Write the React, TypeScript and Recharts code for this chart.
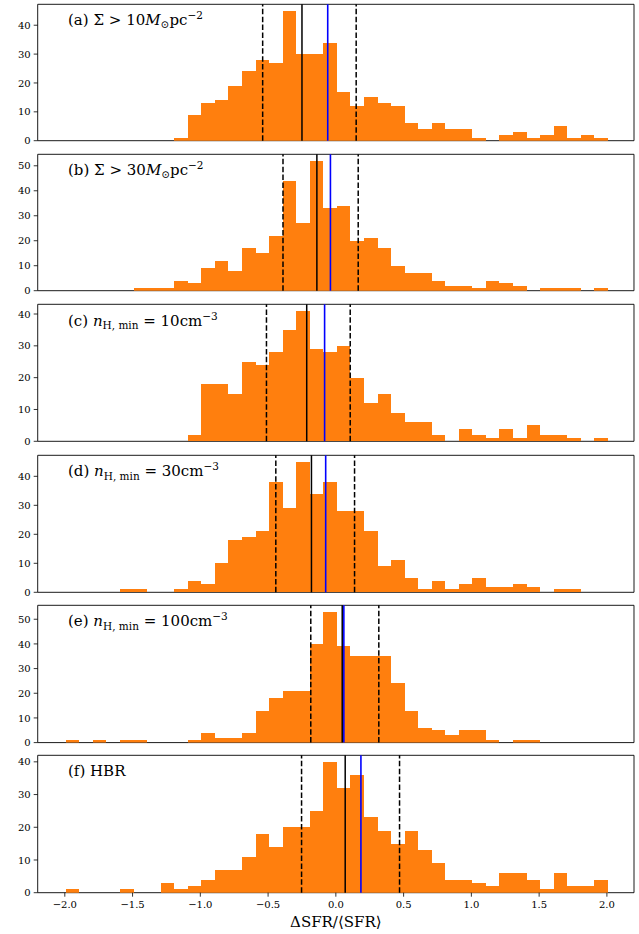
import React from 'react';
import { ComposedChart, Bar, XAxis, YAxis, ReferenceLine, ReferenceArea } from 'recharts';

// Histogram bins (left edge labels), 0.1 wide, covering -2.0 .. 2.0
const binLeft = [
  -2.0, -1.9, -1.8, -1.7, -1.6, -1.5, -1.4, -1.3, -1.2, -1.1,
  -1.0, -0.9, -0.8, -0.7, -0.6, -0.5, -0.4, -0.3, -0.2, -0.1,
  0.0, 0.1, 0.2, 0.3, 0.4, 0.5, 0.6, 0.7, 0.8, 0.9,
  1.0, 1.1, 1.2, 1.3, 1.4, 1.5, 1.6, 1.7, 1.8, 1.9,
];
// empty bins in the axis margins
const padLeft = [-2.2, -2.1];
const padRight = [2.0, 2.1];
const BIN_W = 0.1;

const countsA = [0, 0, 0, 0, 0, 0, 0, 0, 1, 9, 13, 14, 19, 24, 28, 27, 45, 30, 30, 34, 17, 12, 15, 13, 12, 6, 4, 6, 4, 4, 1, 0, 2, 3, 1, 2, 5, 1, 2, 1];
const countsB = [0, 0, 0, 0, 0, 1, 1, 1, 4, 3, 9, 12, 8, 17, 15, 22, 44, 27, 52, 33, 34, 20, 21, 17, 10, 7, 7, 4, 2, 2, 1, 4, 3, 2, 0, 1, 1, 1, 0, 1];
const countsC = [0, 0, 0, 0, 0, 0, 0, 0, 0, 2, 18, 18, 15, 25, 24, 28, 35, 41, 29, 28, 30, 20, 12, 15, 9, 6, 6, 2, 0, 4, 2, 1, 4, 1, 5, 2, 2, 1, 0, 1];
const countsD = [0, 0, 0, 0, 1, 1, 0, 0, 1, 4, 3, 10, 18, 19, 21, 38, 29, 45, 34, 38, 28, 28, 21, 9, 11, 5, 1, 4, 1, 3, 5, 2, 2, 3, 2, 0, 1, 1, 0, 0];
const countsE = [1, 0, 1, 0, 1, 1, 0, 0, 0, 1, 4, 2, 2, 4, 13, 18, 21, 21, 40, 53, 39, 35, 35, 35, 24, 13, 6, 5, 3, 5, 5, 1, 0, 1, 1, 0, 0, 0, 0, 0];
const countsF = [1, 0, 0, 0, 1, 0, 0, 3, 1, 2, 4, 7, 7, 11, 18, 14, 20, 20, 25, 40, 32, 36, 23, 19, 15, 19, 13, 9, 4, 4, 3, 2, 6, 6, 4, 1, 6, 2, 2, 4];

// vertical markers: [16th pct, median, mean, 84th pct]
const linesA = [-0.54, -0.25, -0.06, 0.15];
const linesB = [-0.39, -0.14, -0.04, 0.165];
const linesC = [-0.512, -0.215, -0.083, 0.106];
const linesD = [-0.443, -0.18, -0.075, 0.138];
const linesE = [-0.185, 0.047, 0.059, 0.317];
const linesF = [-0.253, 0.069, 0.185, 0.47];

const xTicks = [-2.0, -1.5, -1.0, -0.5, 0.0, 0.5, 1.0, 1.5, 2.0];
const yTicks40 = [0, 10, 20, 30, 40];
const yTicks50 = [0, 10, 20, 30, 40, 50];

const X_DOMAIN = [-2.2, 2.2];
const ORANGE = '#ff7f0e';
const FONT = 'DejaVu Serif';
const TICK_FS = 10;

const W = 639;
const H = 934;
const LEFT = 37.7;
const RIGHT = 5;
const TOPM = 4.3;
const panelTop = [4.3, 154.3, 304.7, 455, 605, 755.3];
const panelBottom = [140.7, 290.7, 441.7, 592, 742.3, 892.7];

const SUB = 10.5;

const panels = [
  {
    counts: countsA, lines: linesA, yTicks: yTicks40,
    label: (
      <>
        (a) Σ &gt; 10<tspan fontStyle="italic">M</tspan>
        <tspan fontSize={SUB} dy={3}>⊙</tspan>
        <tspan dy={-3}>pc</tspan>
        <tspan fontSize={SUB} dy={-6}>−2</tspan>
      </>
    ),
  },
  {
    counts: countsB, lines: linesB, yTicks: yTicks50,
    label: (
      <>
        (b) Σ &gt; 30<tspan fontStyle="italic">M</tspan>
        <tspan fontSize={SUB} dy={3}>⊙</tspan>
        <tspan dy={-3}>pc</tspan>
        <tspan fontSize={SUB} dy={-6}>−2</tspan>
      </>
    ),
  },
  {
    counts: countsC, lines: linesC, yTicks: yTicks40,
    label: (
      <>
        (c) <tspan fontStyle="italic">n</tspan>
        <tspan fontSize={SUB} dy={3.5}>H, min</tspan>
        <tspan dy={-3.5}> = 10cm</tspan>
        <tspan fontSize={SUB} dy={-6}>−3</tspan>
      </>
    ),
  },
  {
    counts: countsD, lines: linesD, yTicks: yTicks40,
    label: (
      <>
        (d) <tspan fontStyle="italic">n</tspan>
        <tspan fontSize={SUB} dy={3.5}>H, min</tspan>
        <tspan dy={-3.5}> = 30cm</tspan>
        <tspan fontSize={SUB} dy={-6}>−3</tspan>
      </>
    ),
  },
  {
    counts: countsE, lines: linesE, yTicks: yTicks50,
    label: (
      <>
        (e) <tspan fontStyle="italic">n</tspan>
        <tspan fontSize={SUB} dy={3.5}>H, min</tspan>
        <tspan dy={-3.5}> = 100cm</tspan>
        <tspan fontSize={SUB} dy={-6}>−3</tspan>
      </>
    ),
  },
  {
    counts: countsF, lines: linesF, yTicks: yTicks40,
    label: <>(f) HBR</>,
  },
];

const fmt = (v: number) => {
  const s = v.toFixed(1);
  return s.startsWith('-') ? '−' + s.slice(1) : s;
};

const plotW = W - LEFT - RIGHT;
const binPx = (plotW * BIN_W) / (X_DOMAIN[1] - X_DOMAIN[0]);

// bar shape: left edge from Recharts' band scale, full bin width so neighbours touch
const HistRect = (props: any) => {
  const { x, y, height, fill } = props;
  if (!height || height <= 0) return <g />;
  const x0 = Math.round(x);
  const x1 = Math.round(x + binPx);
  return <rect x={x0} y={y} width={x1 - x0} height={height} fill={fill} shapeRendering="crispEdges" />;
};

const XTick = (props: any) => {
  const { x, y, payload } = props;
  return (
    <text x={x} y={y} dy={7.6} textAnchor="middle" fontFamily={FONT} fontSize={TICK_FS} fill="#000">
      {fmt(payload.value)}
    </text>
  );
};

const YTick = (props: any) => {
  const { x, y, payload } = props;
  return (
    <text x={x} y={y} dy={3.6} textAnchor="end" fontFamily={FONT} fontSize={TICK_FS} fill="#000">
      {payload.value}
    </text>
  );
};

function Panel({ idx }: { idx: number }) {
  const p = panels[idx];
  const last = idx === panels.length - 1;
  const chartTop = panelTop[idx] - TOPM;
  const chartBottom = last ? H : panelTop[idx + 1] - TOPM;
  const chartH = chartBottom - chartTop;
  const plotH = panelBottom[idx] - panelTop[idx];
  const xAxisH = chartH - TOPM - plotH;
  const ymax = Math.max(...p.counts) * 1.05;

  const allLeft = [...padLeft, ...binLeft, ...padRight];
  const allCounts = [0, 0, ...p.counts, 0, 0];
  const data = allLeft.map((l, i) => ({
    bin: l.toFixed(1),
    center: l + BIN_W / 2,
    count: allCounts[i],
  }));

  return (
    <div style={{ position: 'absolute', left: 0, top: chartTop, width: W, height: chartH }}>
      <ComposedChart
        width={W}
        height={chartH}
        data={data}
        margin={{ top: TOPM, right: RIGHT, bottom: 0, left: 0 }}
        barCategoryGap={0}
        barGap={0}
      >
        <XAxis
          xAxisId="num"
          dataKey="center"
          type="number"
          domain={X_DOMAIN}
          allowDataOverflow
          ticks={xTicks}
          interval={0}
          height={xAxisH}
          axisLine={false}
          tickSize={4}
          tickMargin={4}
          tickLine={{ stroke: '#000', strokeWidth: 0.8 }}
          tick={last ? <XTick /> : false}
          label={
            last
              ? { value: 'ΔSFR/⟨SFR⟩', position: 'insideBottom', offset: 7, fontSize: 15, fill: '#000', fontFamily: FONT }
              : undefined
          }
        />
        <XAxis xAxisId="bins" dataKey="bin" type="category" hide height={0} />
        <YAxis
          type="number"
          domain={[0, ymax]}
          allowDataOverflow
          ticks={p.yTicks}
          interval={0}
          width={LEFT}
          axisLine={false}
          tickSize={4}
          tickMargin={3}
          tickLine={{ stroke: '#000', strokeWidth: 0.8 }}
          tick={<YTick />}
        />
        <Bar
          xAxisId="bins"
          dataKey="count"
          fill={ORANGE}
          barSize={binPx}
          shape={HistRect}
          isAnimationActive={false}
        />
        <ReferenceLine xAxisId="num" x={p.lines[0]} stroke="#000" strokeWidth={1.5} strokeDasharray="5.5 2.4" ifOverflow="visible" />
        <ReferenceLine xAxisId="num" x={p.lines[3]} stroke="#000" strokeWidth={1.5} strokeDasharray="5.5 2.4" ifOverflow="visible" />
        <ReferenceLine xAxisId="num" x={p.lines[1]} stroke="#000" strokeWidth={1.5} ifOverflow="visible" />
        <ReferenceLine xAxisId="num" x={p.lines[2]} stroke="#0000ff" strokeWidth={1.6} ifOverflow="visible" />
        <ReferenceArea
          xAxisId="num"
          x1={X_DOMAIN[0]}
          x2={X_DOMAIN[1]}
          y1={0}
          y2={ymax}
          fill="none"
          fillOpacity={0}
          stroke="#000"
          strokeWidth={0.9}
          ifOverflow="visible"
        />
      </ComposedChart>
    </div>
  );
}

export default function App() {
  return (
    <div style={{ position: 'absolute', left: 0, top: 0, width: W, height: H, background: '#fff' }}>
      {panels.map((_, i) => (
        <Panel key={i} idx={i} />
      ))}
      <svg
        width={W}
        height={H}
        style={{ position: 'absolute', left: 0, top: 0, pointerEvents: 'none' }}
      >
        {panels.map((p, i) => (
          <text key={i} x={68} y={panelTop[i] + 21} fontFamily={FONT} fontSize={15} fill="#000">
            {p.label}
          </text>
        ))}
      </svg>
    </div>
  );
}
